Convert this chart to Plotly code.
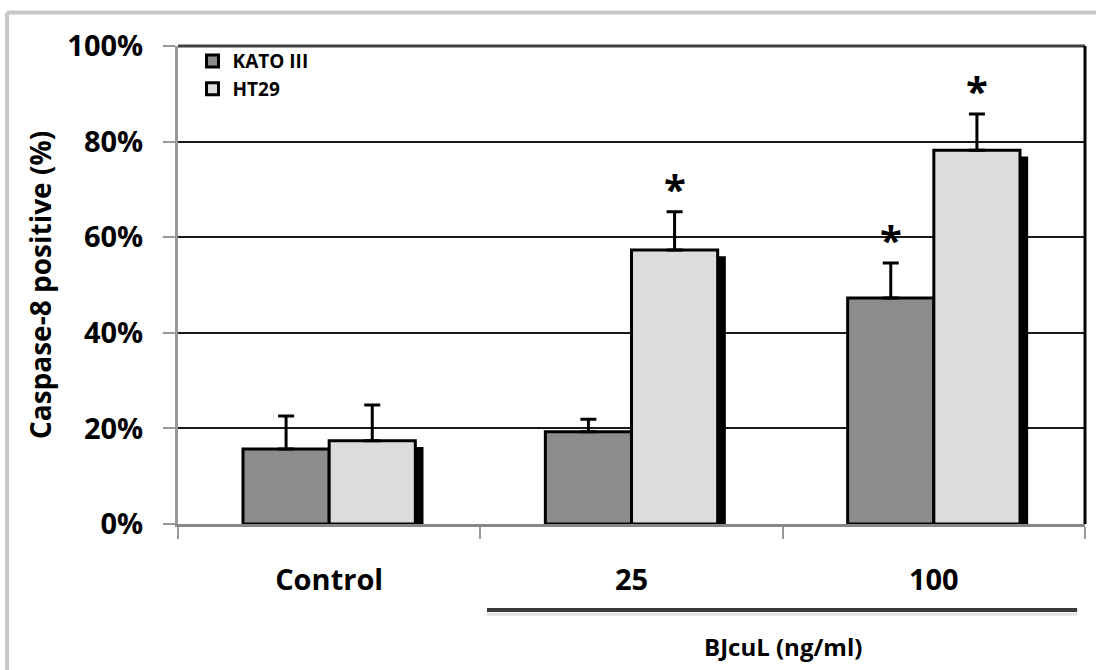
import plotly.graph_objects as go

categories = ["Control", "25", "100"]
kato = [15.7, 19.3, 47.3]
kato_err = [6.9, 2.6, 7.3]
ht29 = [17.4, 57.3, 78.2]
ht29_err = [7.5, 8.0, 7.6]
kato_sig = ["", "", "*"]
ht29_sig = ["", "*", "*"]
y_ticks = [0, 20, 40, 60, 80, 100]
y_ticklabels = [f"{v}%" for v in y_ticks]

BAR_W = 0.285
SHADOW_DX = 0.027
SHADOW_DY = 1.3
FONT = "Open Sans"

fig = go.Figure()

# shadows
for vals, off in [(kato, -BAR_W), (ht29, 0.0)]:
    fig.add_trace(go.Bar(
        x=categories, y=[v - SHADOW_DY for v in vals],
        width=BAR_W, offset=off + SHADOW_DX,
        marker=dict(color="black", line=dict(width=0)),
        showlegend=False, hoverinfo="skip"))

for name, vals, errs, color, off in [
    ("KATO III", kato, kato_err, "#8c8c8c", -BAR_W),
    ("HT29", ht29, ht29_err, "#dcdcdc", 0.0),
]:
    fig.add_trace(go.Bar(
        x=categories, y=vals, name=name,
        width=BAR_W, offset=off,
        marker=dict(color=color, line=dict(color="black", width=3)),
        error_y=dict(type="data", array=errs, arrayminus=[0] * len(errs),
                     symmetric=False, color="black", thickness=3, width=8),
    ))

# significance asterisks
for i, cat in enumerate(categories):
    for sig, vals, errs, dx in [(kato_sig, kato, kato_err, -BAR_W / 2),
                                (ht29_sig, ht29, ht29_err, BAR_W / 2)]:
        if sig[i]:
            fig.add_annotation(x=i + dx, y=vals[i] + errs[i], xref="x", yref="y",
                               text=f"<b>{sig[i]}</b>", showarrow=False,
                               yanchor="bottom", yshift=-6,
                               font=dict(family=FONT, size=40, color="black"))

# bracket line for BJcuL doses
fig.add_shape(type="line", xref="x", yref="paper", x0=0.522, x1=2.474,
              y0=-0.18, y1=-0.18, line=dict(color="#3a3a3a", width=4))
fig.add_shape(type="line", xref="x", yref="paper", x0=0.522, x1=2.474,
              y0=-0.189, y1=-0.189, line=dict(color="#e4e4e4", width=3))
fig.add_annotation(x=1.5, y=-0.257, xref="x", yref="paper", text="<b>BJcuL (ng/ml)</b>",
                   showarrow=False, yanchor="middle",
                   font=dict(family=FONT, size=24, color="black"))

# plot frame top and right
fig.add_shape(type="line", xref="paper", yref="paper", x0=0, x1=1, y0=1, y1=1,
              line=dict(color="#404040", width=3))
fig.add_shape(type="line", xref="paper", yref="paper", x0=1, x1=1, y0=0, y1=1,
              line=dict(color="black", width=3))
# outer image frame (left and top)
fig.add_shape(type="line", xref="paper", yref="paper", x0=-0.1885, x1=-0.1885,
              y0=-0.4, y1=1.07, line=dict(color="#c8c8c8", width=4))
fig.add_shape(type="line", xref="paper", yref="paper", x0=-0.1885, x1=1.1,
              y0=1.07, y1=1.07, line=dict(color="#c8c8c8", width=4))

fig.update_layout(
    width=1096, height=670,
    margin=dict(l=178, r=11, t=46, b=146),
    barmode="overlay",
    plot_bgcolor="white", paper_bgcolor="white",
    font=dict(family=FONT, color="black"),
    legend=dict(x=0.016, y=1.008, xanchor="left", yanchor="top",
                bgcolor="rgba(0,0,0,0)", tracegroupgap=0,
                font=dict(family=FONT, size=19, color="black", weight="bold"),
                itemwidth=30),
    xaxis=dict(type="category", range=[-0.5, 2.5], tickson="boundaries",
               ticks="outside", ticklen=12, tickwidth=2, tickcolor="#999",
               showline=True, linecolor="#888", linewidth=3,
               showgrid=False, ticklabelstandoff=28,
               tickfont=dict(family=FONT, size=29, weight="bold")),
    yaxis=dict(range=[0, 100], tickvals=y_ticks, ticktext=y_ticklabels,
               ticks="outside", ticklen=12, tickwidth=2, tickcolor="#999",
               showline=True, linecolor="#999", linewidth=3,
               showgrid=True, gridcolor="#1a1a1a", gridwidth=2,
               zeroline=False, ticklabelstandoff=14,
               tickfont=dict(family=FONT, size=29, weight="bold")),
)
fig.update_yaxes(title=dict(text="Caspase-8 positive (%)", standoff=8,
                            font=dict(family=FONT, size=28, weight="bold")))

fig.write_html("out.html", config={"displayModeBar": False},
               post_script="document.body.style.margin='0px';")
